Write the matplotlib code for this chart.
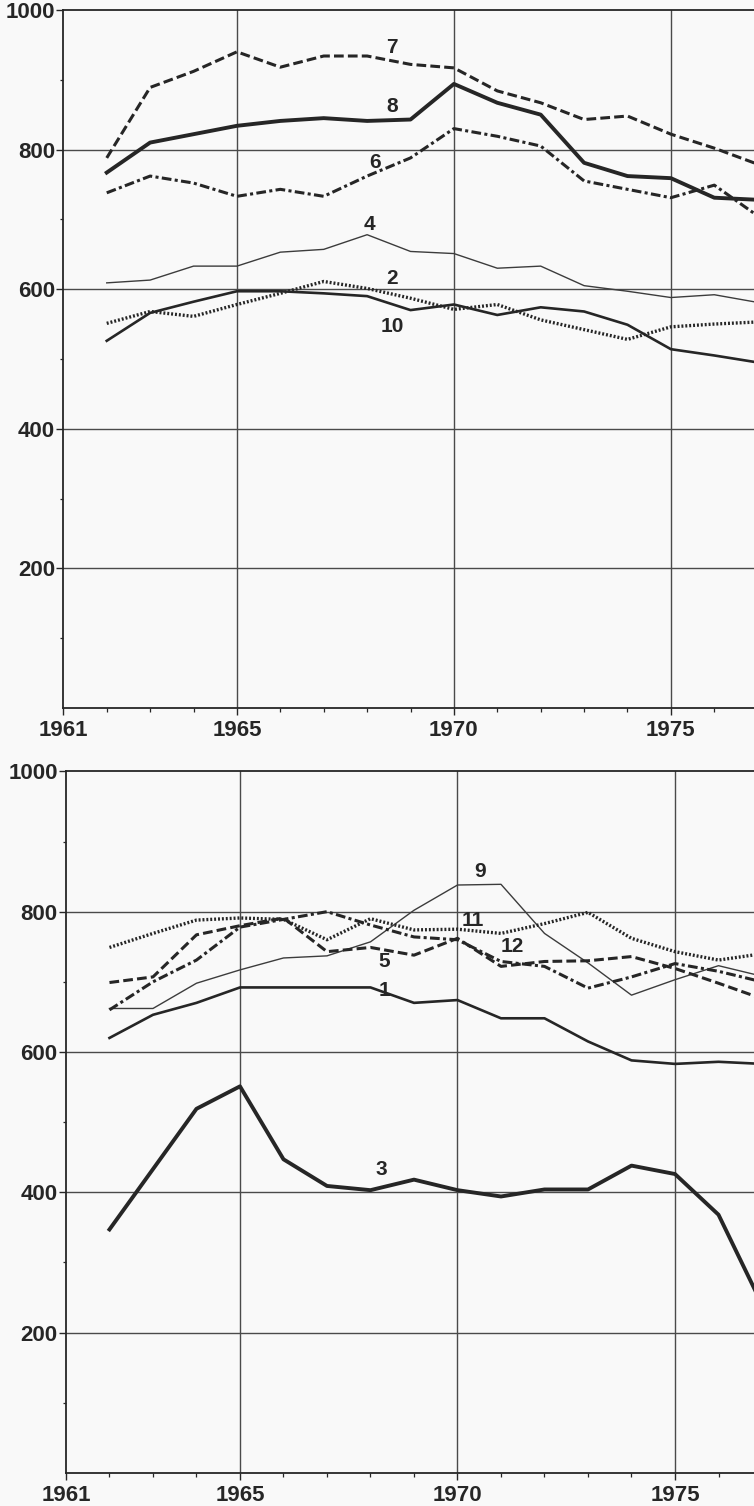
import matplotlib
matplotlib.use("Agg")
import matplotlib.pyplot as plt
from matplotlib.ticker import FixedLocator

plt.rcParams['font.family'] = ['Liberation Sans', 'DejaVu Sans']
plt.rcParams['lines.scale_dashes'] = False

years = list(range(1962, 1978))

# Top panel series
s7 = [788, 889, 912, 940, 918, 934, 934, 922, 917, 884, 867, 843, 848, 822, 802, 779]
s8 = [767, 810, 822, 834, 841, 845, 841, 843, 894, 867, 850, 781, 762, 759, 731, 728]
s6 = [738, 762, 752, 733, 743, 733, 762, 788, 830, 819, 805, 755, 743, 731, 749, 705]
s4 = [609, 613, 633, 633, 653, 657, 678, 654, 651, 630, 633, 605, 597, 588, 592, 581]
s2 = [551, 568, 561, 578, 594, 611, 601, 587, 571, 578, 556, 542, 528, 546, 550, 553]
s10 = [526, 566, 582, 597, 597, 594, 590, 570, 578, 563, 574, 568, 549, 514, 505, 495]

# Bottom panel series
s9 = [662, 662, 698, 717, 734, 737, 757, 802, 838, 839, 769, 727, 681, 703, 723, 708]
s11 = [749, 769, 788, 791, 789, 760, 790, 774, 775, 769, 783, 799, 762, 743, 731, 740]
s12 = [660, 700, 731, 778, 789, 800, 781, 764, 760, 729, 722, 691, 707, 726, 715, 700]
s5 = [699, 707, 767, 780, 791, 743, 749, 738, 762, 722, 729, 730, 736, 719, 698, 676]
s1 = [620, 653, 670, 692, 692, 692, 692, 670, 674, 648, 648, 615, 588, 583, 586, 583]
s3 = [347, 433, 519, 551, 447, 409, 403, 418, 403, 394, 404, 404, 438, 426, 368, 240]

x_major = [1961, 1965, 1970, 1975]
x_labels = ['1961', '1965', '1970', '1975']
y_major = [200, 400, 600, 800, 1000]
y_labels = ['200', '400', '600', '800', '1000']

INK = '#262626'
GRID = '#4a4a4a'
BG = '#f9f9f9'

DASHED = (0, (7.0, 3.0))
DOTTED = (0, (1.4, 1.4))
DASHDOT = (0, (7.0, 2.4, 2.2, 2.4))

fig = plt.figure(figsize=(7.54, 15.06), dpi=100, facecolor=BG)

ax_top = fig.add_axes([0.0840, 0.5299, 0.9160, 0.4635])
ax_bot = fig.add_axes([0.0875, 0.0220, 0.9125, 0.4658])


def style_axes(ax, xmax):
    ax.set_facecolor(BG)
    ax.set_xlim(1961, xmax)
    ax.set_ylim(0, 1000)
    ax.xaxis.set_major_locator(FixedLocator(x_major))
    ax.set_xticklabels(x_labels)
    ax.xaxis.set_minor_locator(FixedLocator(list(range(1961, 1978))))
    ax.yaxis.set_major_locator(FixedLocator(y_major))
    ax.set_yticklabels(y_labels)
    ax.yaxis.set_minor_locator(FixedLocator([100, 300, 500, 700, 900]))
    for lab in ax.get_xticklabels() + ax.get_yticklabels():
        lab.set_fontweight('bold')
        lab.set_fontsize(16)
        lab.set_color(INK)
    ax.tick_params(axis='x', which='major', direction='out', length=5, width=1.0,
                   pad=3.5, color=INK)
    ax.tick_params(axis='x', which='minor', direction='out', length=3, width=0.9,
                   color=INK)
    ax.tick_params(axis='y', which='major', direction='out', length=5, width=1.0,
                   pad=1.0, color=INK)
    ax.tick_params(axis='y', which='minor', direction='out', length=2, width=0.9,
                   color=INK)
    for yv in [200, 400, 600, 800]:
        ax.axhline(yv, color=GRID, lw=1.0, zorder=1)
    for xv in [1965, 1970, 1975]:
        ax.axvline(xv, color=GRID, lw=1.0, zorder=1)
    ax.spines['right'].set_visible(False)
    for sp in ['left', 'bottom', 'top']:
        ax.spines[sp].set_color(INK)
        ax.spines[sp].set_linewidth(1.3)


style_axes(ax_top, 1976.915)
style_axes(ax_bot, 1976.816)

# Top panel lines
ax_top.plot(years, s7, color=INK, lw=2.2, linestyle=DASHED, zorder=3)
ax_top.plot(years, s8, color=INK, lw=2.8, zorder=3)
ax_top.plot(years, s6, color=INK, lw=2.2, linestyle=DASHDOT, zorder=3)
ax_top.plot(years, s4, color='#3c3c3c', lw=1.0, zorder=3)
ax_top.plot(years, s2, color=INK, lw=2.4, linestyle=DOTTED, zorder=3)
ax_top.plot(years, s10, color=INK, lw=1.9, zorder=3)

# Bottom panel lines
ax_bot.plot(years, s9, color='#3c3c3c', lw=1.0, zorder=3)
ax_bot.plot(years, s11, color=INK, lw=2.4, linestyle=DOTTED, zorder=3)
ax_bot.plot(years, s12, color=INK, lw=2.2, linestyle=DASHDOT, zorder=3)
ax_bot.plot(years, s5, color=INK, lw=2.2, linestyle=DASHED, zorder=3)
ax_bot.plot(years, s1, color=INK, lw=1.9, zorder=3)
ax_bot.plot(years, s3, color=INK, lw=2.8, zorder=3)

lab_kw = dict(fontsize=15, fontweight='bold', color=INK, ha='center', va='center', zorder=4)
ax_top.text(1968.57, 946, '7', **lab_kw)
ax_top.text(1968.57, 862, '8', **lab_kw)
ax_top.text(1968.18, 781, '6', **lab_kw)
ax_top.text(1968.06, 693, '4', **lab_kw)
ax_top.text(1968.57, 615, '2', **lab_kw)
ax_top.text(1968.57, 546, '10', **lab_kw)

ax_bot.text(1970.52, 857, '9', **lab_kw)
ax_bot.text(1970.36, 787, '11', **lab_kw)
ax_bot.text(1971.25, 750, '12', **lab_kw)
ax_bot.text(1968.32, 729, '5', **lab_kw)
ax_bot.text(1968.32, 687, '1', **lab_kw)
ax_bot.text(1968.25, 433, '3', **lab_kw)

fig.savefig('out.png', dpi=100, facecolor=BG)
